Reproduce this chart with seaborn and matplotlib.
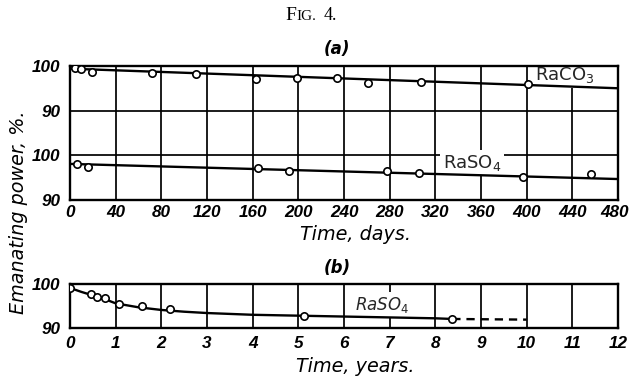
import matplotlib
matplotlib.use("Agg")
import matplotlib.pyplot as plt
import matplotlib.transforms as mtransforms
from matplotlib.offsetbox import TextArea, HPacker, AnchoredOffsetbox
import seaborn as sns
import pandas as pd

# ---- data -------------------------------------------------------------
# (a) emanating power vs. time in days
raco3_days = [4.4, 9.6, 19.3, 72, 110, 163, 199, 234, 261, 307, 401]
raco3_vals = [99.5, 99.26, 98.7, 98.35, 98.2, 97.1, 97.4, 97.25, 96.1, 96.3, 95.9]
raco3_fit_days = [0, 480]
raco3_fit_vals = [99.4, 95.0]

raso4_days = [6, 15.5, 165, 192, 278, 306, 396.5, 456]
raso4_vals = [97.9, 97.4, 97.0, 96.5, 96.5, 95.9, 95.15, 95.7]
raso4_fit_days = [0, 480]
raso4_fit_vals = [98.0, 94.6]

# the RaCO3 scale sits above the RaSO4 scale on the same axes
raco3_offset = 20

# (b) RaSO4 over years
raso4_years = [0, 0.47, 0.58, 0.77, 1.08, 1.58, 2.19, 5.12, 8.37]
raso4_year_vals = [99.0, 97.65, 97.0, 96.9, 95.4, 95.1, 94.25, 92.7, 92.05]
curve_years = [0, 0.25, 0.5, 0.75, 1, 1.5, 2, 2.5, 3, 4, 5, 6, 7, 8, 8.37]
curve_vals = [99.1, 98.2, 97.4, 96.6, 95.6, 94.7, 94.1, 93.7, 93.4, 93.0, 92.8,
              92.6, 92.4, 92.2, 92.05]
extrap_years = [8.37, 10]
extrap_vals = [92.05, 91.9]

day_ticks = list(range(0, 481, 40))
year_ticks = list(range(0, 13))
a_yticks = [90, 100, 110, 120]
a_yticklabels = ["90", "100", "90", "100"]
b_yticks = [90, 100]
b_yticklabels = ["90", "100"]

# ---- style ------------------------------------------------------------
sns.set_theme(style="white")
plt.rcParams["font.family"] = ["DejaVu Sans"]
plt.rcParams["mathtext.fontset"] = "custom"
plt.rcParams["mathtext.rm"] = "DejaVu Sans"
plt.rcParams["mathtext.it"] = "DejaVu Sans:italic"

INK = "black"
LW_FRAME = 1.7
LW_GRID = 1.25
LW_CURVE = 1.7
tick_font = dict(fontsize=12.3, fontstyle="italic", fontweight="bold",
                 family=["Liberation Sans", "DejaVu Sans"])

fig = plt.figure(figsize=(6.32, 3.77), dpi=100)
ax_a = fig.add_axes([0.1108, 0.4708, 0.8671, 0.3541])
ax_b = fig.add_axes([0.1108, 0.1300, 0.8671, 0.1167])


def style_axes(ax):
    for s in ax.spines.values():
        s.set_visible(True)
        s.set_color(INK)
        s.set_linewidth(LW_FRAME)
        s.set_zorder(3)
    ax.tick_params(length=0, colors=INK)
    ax.set_xlabel("")
    ax.set_ylabel("")


def open_points(ax, x, y):
    sns.scatterplot(x=x, y=y, ax=ax, s=28, color="white", edgecolor=INK,
                    linewidth=1.2, zorder=5, legend=False)


# ---- panel (a) --------------------------------------------------------
df_co3 = pd.DataFrame({"day": raco3_fit_days,
                       "val": [v + raco3_offset for v in raco3_fit_vals]})
df_so4 = pd.DataFrame({"day": raso4_fit_days, "val": raso4_fit_vals})
sns.lineplot(data=df_co3, x="day", y="val", ax=ax_a, color=INK, lw=LW_CURVE, zorder=4)
sns.lineplot(data=df_so4, x="day", y="val", ax=ax_a, color=INK, lw=LW_CURVE, zorder=4)
open_points(ax_a, raco3_days, [v + raco3_offset for v in raco3_vals])
open_points(ax_a, raso4_days, raso4_vals)

ax_a.set_xlim(0, 480)
ax_a.set_ylim(90, 120)
ax_a.set_xticks(day_ticks)
ax_a.set_xticklabels([str(t) for t in day_ticks], **tick_font)
ax_a.set_yticks(a_yticks)
ax_a.set_yticklabels(a_yticklabels, **tick_font)
ax_a.grid(True, color=INK, lw=LW_GRID)
ax_a.set_axisbelow(True)
style_axes(ax_a)
ax_a.tick_params(axis="x", pad=4)
ax_a.tick_params(axis="y", pad=7)

# keep the last day label inside the figure edge
last = ax_a.get_xticklabels()[-1]
last.set_transform(last.get_transform()
                   + mtransforms.ScaledTranslation(-2.5 / 72, 0, fig.dpi_scale_trans))

box = dict(facecolor="white", edgecolor="none", pad=2)
ax_a.text(433, 117.9, "RaCO$_3$", ha="center", va="center", fontsize=13,
          bbox=box, zorder=2)
ax_a.text(352, 98.2, "RaSO$_4$", ha="center", va="center", fontsize=13,
          bbox=box, zorder=2)

# ---- panel (b) --------------------------------------------------------
df_curve = pd.DataFrame({"yr": curve_years, "val": curve_vals})
df_ext = pd.DataFrame({"yr": extrap_years, "val": extrap_vals})
sns.lineplot(data=df_curve, x="yr", y="val", ax=ax_b, color=INK, lw=LW_CURVE, zorder=4)
sns.lineplot(data=df_ext, x="yr", y="val", ax=ax_b, color=INK, lw=LW_CURVE,
             linestyle=(0, (3.5, 2.5)), zorder=4)
open_points(ax_b, raso4_years, raso4_year_vals)

ax_b.set_xlim(0, 12)
ax_b.set_ylim(90, 100)
ax_b.set_xticks(year_ticks)
ax_b.set_xticklabels([str(t) for t in year_ticks], **tick_font)
ax_b.set_yticks(b_yticks)
ax_b.set_yticklabels(b_yticklabels, **tick_font)
ax_b.grid(True, axis="x", color=INK, lw=LW_GRID)
ax_b.set_axisbelow(True)
style_axes(ax_b)
ax_b.tick_params(axis="x", pad=5.5)
ax_b.tick_params(axis="y", pad=7)
ax_b.text(6.83, 95.2, "RaSO$_4$", ha="center", va="center", fontsize=12,
          fontstyle="italic", bbox=box, zorder=2)

# ---- figure texts -----------------------------------------------------
label_font = dict(fontsize=13.8, fontstyle="italic", color=INK)
fig.text(0.562, 0.377, "Time, days.", ha="center", va="center", **label_font)
fig.text(0.562, 0.028, "Time, years.", ha="center", va="center", **label_font)
fig.text(0.030, 0.438, "Emanating power, %.", rotation=90, ha="center",
         va="center", **label_font)
fig.text(0.533, 0.870, "(a)", ha="center", va="center", fontsize=12,
         fontstyle="italic", fontweight="bold", color=INK)
fig.text(0.533, 0.289, "(b)", ha="center", va="center", fontsize=12,
         fontstyle="italic", fontweight="bold", color=INK)

# small-caps style caption
serif = ["Liberation Serif", "DejaVu Serif"]
big = dict(fontsize=14, family=serif, color=INK)
small = dict(fontsize=11, family=serif, color=INK)
word = HPacker(children=[TextArea("F", textprops=big),
                         TextArea("IG.", textprops=small)],
               align="baseline", pad=0, sep=0.5)
caption = HPacker(children=[word, TextArea("4.", textprops=dict(big, fontsize=13))],
                  align="baseline", pad=0, sep=5)
anchored = AnchoredOffsetbox(loc="center", child=caption, frameon=False,
                             bbox_to_anchor=(0.492, 0.958),
                             bbox_transform=fig.transFigure, borderpad=0, pad=0)
fig.add_artist(anchored)

fig.savefig("out.png", dpi=100)
